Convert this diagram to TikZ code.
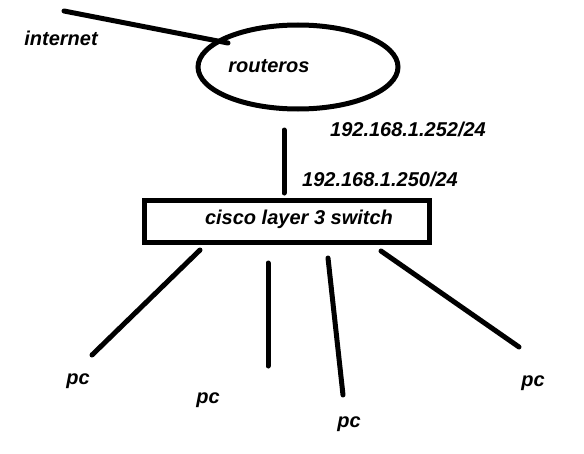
\documentclass[tikz,border=0pt]{standalone}
\usepackage{fontspec}
\setmainfont{Liberation Sans}
\usetikzlibrary{shapes.geometric}
\tikzset{
  wire/.style={line width=3.75pt, line cap=round},
  lbl/.style={inner sep=0pt, font=\fontsize{15}{18}\selectfont\bfseries\itshape},
  routerbox/.style={ellipse, draw, line width=3.75pt, minimum width=150pt, minimum height=63pt, inner sep=0pt},
  switchbox/.style={rectangle, draw, line width=3.75pt, minimum width=213.75pt, minimum height=31.5pt, inner sep=0pt}
}

\begin{document}
\begin{tikzpicture}[x=0.75pt, y=-0.75pt]
      \useasboundingbox (0,0) rectangle (584,453);

      % Internet uplink
      \node[lbl] (inet) at (61,38) {internet};
      \coordinate (inetend) at (64,11);
      \coordinate (inetin) at (228,43);

      % Router and switch
      \node[routerbox] (router) at (298,67) {};
      \node[lbl] (routertxt) at (269,66) {routeros};
      \node[switchbox] (switch) at (287,221.5) {};
      \node[lbl] (switchtxt) at (299,219) {cisco layer 3 switch};

      \draw[wire] (inetend) -- (inetin);

      % Link between router and switch
      \coordinate (linktop) at (284,130);
      \coordinate (linkbot) at (284,193);
      \draw[wire] (linktop) -- (linkbot);
      \node[lbl] (iprouter) at (408,129) {192.168.1.252/24};
      \node[lbl] (ipswitch) at (380,179) {192.168.1.250/24};

      % PCs - one wire each
      \foreach \i/\sx/\sy/\ex/\ey/\px/\py in {1/200/250/92/355/78/381, 2/268/263/268/366/208/400, 3/328/258/343/395/349/424, 4/381/251/519/347/533/383} {
          \coordinate (wtop\i) at (\sx,\sy);
          \coordinate (wend\i) at (\ex,\ey);
          \draw[wire] (wtop\i) -- (wend\i);
          \node[lbl] (pc\i) at (\px,\py) {pc};
        }
    \end{tikzpicture}
\end{document}
